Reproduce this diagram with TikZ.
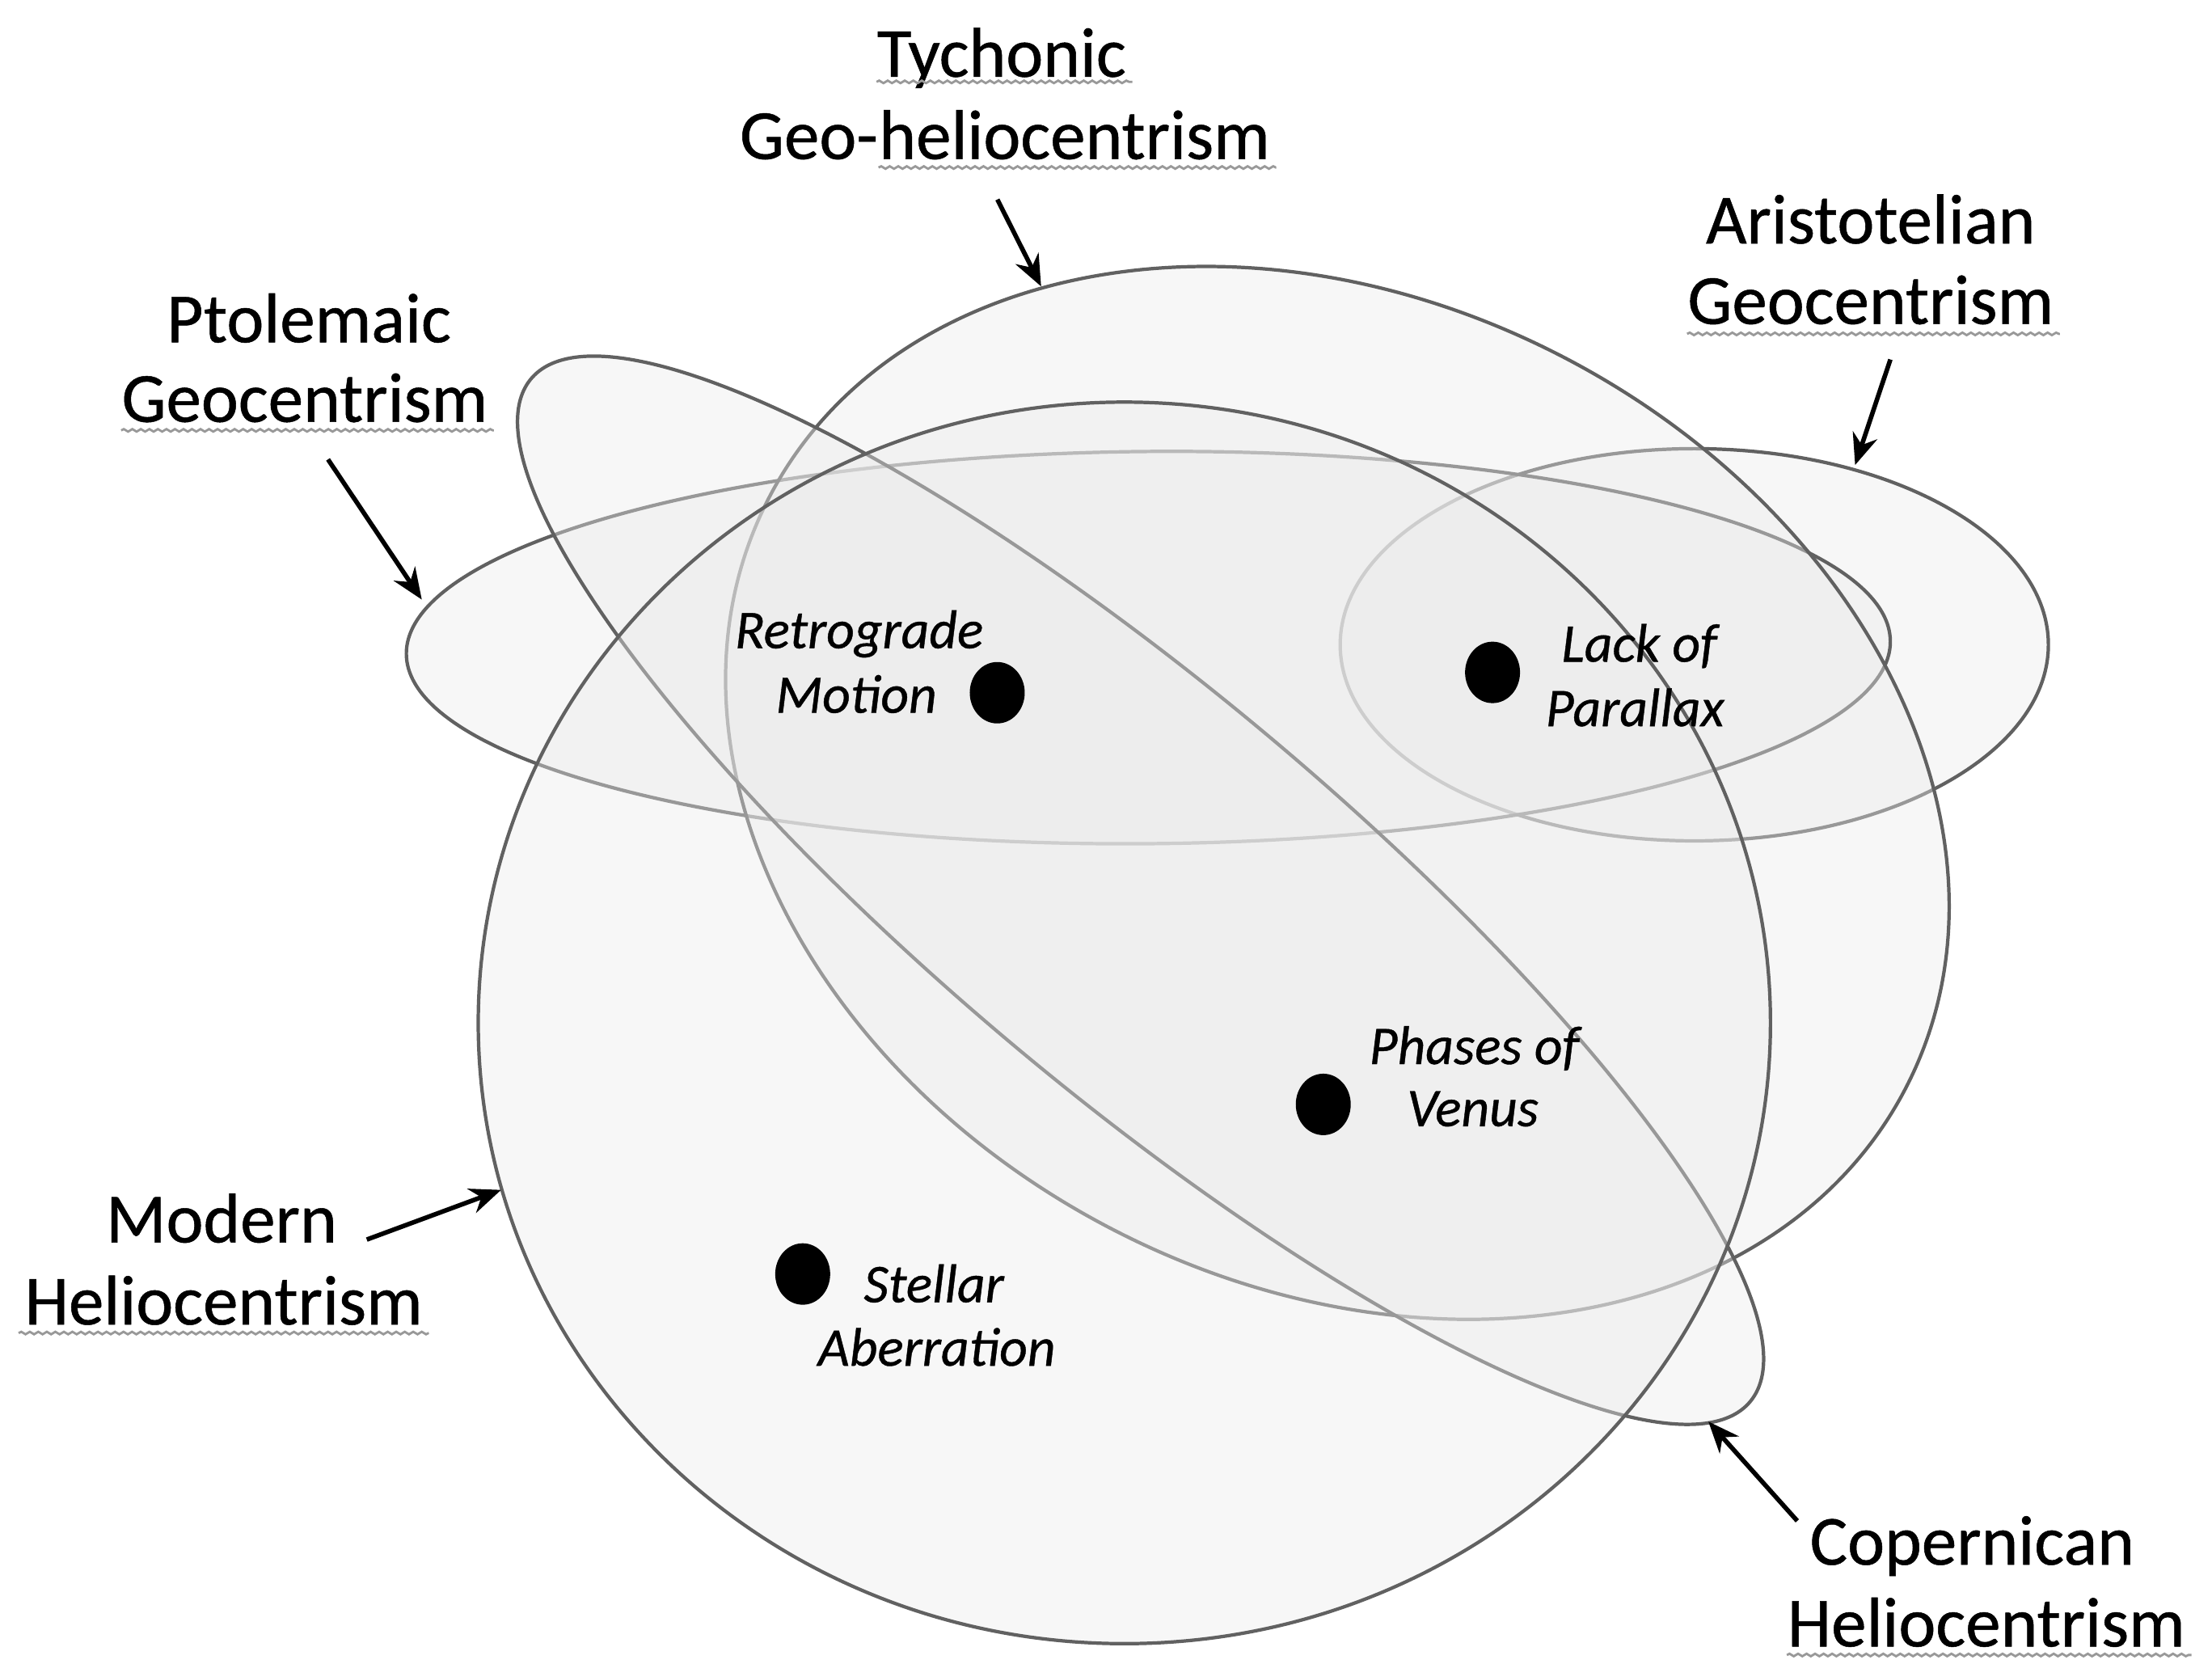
\documentclass[tikz,border=0pt]{standalone}
\usepackage{fontspec}
\setmainfont{Carlito}
\newfontfamily\labfont{Carlito}[FakeBold=0.6]
\usetikzlibrary{arrows.meta,decorations.pathmorphing,shapes.geometric}
\begin{document}
\begin{tikzpicture}[x=0.017449cm,y=-0.017449cm,
  shp/.style={draw=black!62, line width=1.2pt, fill=black!8, fill opacity=0.4},
  lab/.style={font=\labfont\fontsize{24.8}{28.8}\selectfont, inner sep=0pt, anchor=base},
  itl/.style={font=\labfont\fontsize{19.2}{22.5}\selectfont\itshape, inner sep=0pt, anchor=base},
  dot/.style={ellipse, fill=black, minimum width=0.68cm, minimum height=0.76cm, inner sep=0pt},
  arr/.style={-{Stealth[length=11pt,width=9pt]}, line width=1.6pt, black},
  ul/.style={draw=black!40, line width=0.8pt, decorate, decoration={snake, amplitude=0.45pt, segment length=3pt}}]
\useasboundingbox (0,0) rectangle (1568,1179.4);
\fill[white] (0,0) rectangle (1568,1179.4);

% sets, from back to front
\draw[shp, shift={(1201,457)}] (0,0) ellipse [x radius=251, y radius=139];
\draw[shp, shift={(814,459)}, rotate=0.5] (0,0) ellipse [x radius=526, y radius=139];
\draw[shp, shift={(948,562)}, rotate=-27.5] (0,0) ellipse [x radius=454, y radius=348];
\draw[shp, shift={(808.5,631)}, rotate=-40] (0,0) ellipse [x radius=564, y radius=142];
\draw[shp, shift={(797,725)}] (0,0) ellipse [x radius=458, y radius=440];

% labels
\node[lab] (tyc1) at (710,54.4) {Tychonic};
\node[lab, anchor=base west] (tyc2a) at (524,112.7) {Geo-};
\node[lab, anchor=base west] (tyc2b) at (tyc2a.base east) {heliocentrism};
\node[lab] (pto1) at (219,242.6) {Ptolemaic};
\node[lab] (pto2) at (216,299) {Geocentrism};
\node[lab] (ari1) at (1326,172.5) {Aristotelian};
\node[lab] (ari2) at (1326,229.6) {Geocentrism};
\node[lab] (mod1) at (157,880.6) {Modern};
\node[lab] (mod2) at (158.6,938.8) {Heliocentrism};
\node[lab] (cop1) at (1398,1109) {Copernican};
\node[lab] (cop2) at (1408,1167) {Heliocentrism};

% underlines
\draw[ul] ([yshift=-1.8pt]tyc1.base west) -- ([yshift=-1.8pt,xshift=2pt]tyc1.base east);
\draw[ul] ([yshift=-3pt]tyc2b.base west) -- ([yshift=-3pt,xshift=2pt]tyc2b.base east);
\draw[ul] ([yshift=-3pt]pto2.base west) -- ([yshift=-3pt,xshift=2pt]pto2.base east);
\draw[ul] ([yshift=-3.5pt]ari2.base west) -- ([yshift=-3.5pt,xshift=2pt]ari2.base east);
\draw[ul] ([yshift=-3pt,xshift=-2pt]mod2.base west) -- ([yshift=-3pt,xshift=2pt]mod2.base east);
\draw[ul] ([yshift=-3pt]cop2.base west) -- ([yshift=-3pt,xshift=2pt]cop2.base east);

% phenomena
\node[dot] (dret) at (706.9,491) {};
\node[itl] (ret1) at (609,459.4) {Retrograde};
\node[itl] (ret2) at (607,505.2) {Motion};
\node[dot] (dlac) at (1058,476.6) {};
\node[itl] (lac1) at (1162,469) {Lack of};
\node[itl] (lac2) at (1159,514.7) {Parallax};
\node[dot] (dpha) at (938,782.8) {};
\node[itl] (pha1) at (1045,754.2) {Phases of};
\node[itl] (pha2) at (1044,798.2) {Venus};
\node[dot] (dste) at (569,903) {};
\node[itl] (ste1) at (662,923) {Stellar};
\node[itl] (ste2) at (664,968) {Aberration};

% arrows
\coordinate (tycT) at (707,141.4);  \coordinate (tycH) at (738,203);
\coordinate (ptoT) at (232.5,325.6); \coordinate (ptoH) at (299,425);
\coordinate (ariT) at (1340,254.8); \coordinate (ariH) at (1315,329.6);
\coordinate (modT) at (260,878.6);  \coordinate (modH) at (355.2,843.4);
\coordinate (copT) at (1274,1078);  \coordinate (copH) at (1211,1007.6);
\draw[arr] (tycT) -- (tycH);
\draw[arr] (ptoT) -- (ptoH);
\draw[arr] (ariT) -- (ariH);
\draw[arr] (modT) -- (modH);
\draw[arr] (copT) -- (copH);
\end{tikzpicture}
\end{document}
